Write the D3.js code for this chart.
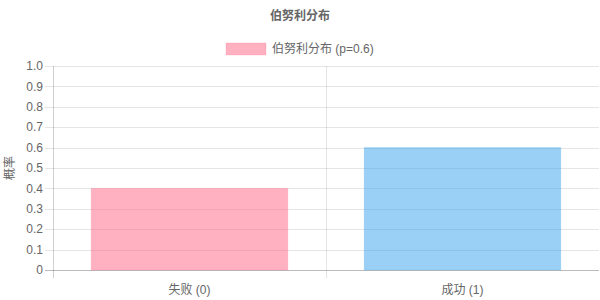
<!DOCTYPE html>
<html>
<head>
<meta charset="utf-8">
<script src="https://cdn.jsdelivr.net/npm/d3@7"></script>
<style>
  body { margin: 0; background: #fff; }
  svg text { font-family: "Helvetica Neue", Arial, "Liberation Sans", "Noto Sans CJK SC", sans-serif; }
</style>
</head>
<body>
<div id="chart"></div>
<script>
// Datos
const categories = ['失败 (0)', '成功 (1)'];
const probabilities = [0.4, 0.6];
const fillColors = ['rgba(255, 99, 132, 0.5)', 'rgba(54, 162, 235, 0.5)'];
const borderColors = ['rgba(255, 99, 132, 0.2)', 'rgba(54, 162, 235, 0.2)'];
const yTicks = [0, 0.1, 0.2, 0.3, 0.4, 0.5, 0.6, 0.7, 0.8, 0.9, 1.0];
const chartTitle = '伯努利分布';
const seriesLabel = '伯努利分布 (p=0.6)';
const yTitle = '概率';

const width = 600;
const height = 300;
const margin = { top: 66, right: 1, bottom: 30, left: 53 };
const chartWidth = width - margin.left - margin.right;
const chartHeight = height - margin.top - margin.bottom;

const svg = d3.select('#chart').append('svg')
    .attr('width', width)
    .attr('height', height);

const g = svg.append('g')
    .attr('transform', `translate(${margin.left},${margin.top})`);

const xScale = d3.scaleBand()
    .domain(categories)
    .range([0, chartWidth]);

const yScale = d3.scaleLinear()
    .domain([0, 1])
    .range([chartHeight, 0]);

const gridColor = 'rgba(0,0,0,0.1)';

// Líneas horizontales
g.selectAll('.hgrid')
    .data(yTicks)
    .enter()
    .append('line')
    .attr('class', 'hgrid')
    .attr('x1', -8)
    .attr('x2', chartWidth)
    .attr('y1', d => Math.round(yScale(d)) + 0.5)
    .attr('y2', d => Math.round(yScale(d)) + 0.5)
    .attr('stroke', gridColor);

// Línea vertical entre categorías
g.append('line')
    .attr('x1', Math.round(xScale.bandwidth()) + 0.5)
    .attr('x2', Math.round(xScale.bandwidth()) + 0.5)
    .attr('y1', 0)
    .attr('y2', chartHeight + 8)
    .attr('stroke', gridColor);

// Barras
const inner = 0.72;
g.selectAll('.bar')
    .data(categories)
    .enter()
    .append('rect')
    .attr('class', 'bar')
    .attr('x', d => xScale(d) + xScale.bandwidth() * (1 - inner) / 2)
    .attr('width', xScale.bandwidth() * inner)
    .attr('y', (d, i) => yScale(probabilities[i]))
    .attr('height', (d, i) => chartHeight - yScale(probabilities[i]))
    .attr('fill', (d, i) => fillColors[i])
    .attr('stroke', (d, i) => borderColors[i])
    .attr('stroke-width', 1);

// Ejes
g.append('line')
    .attr('x1', 0.5).attr('x2', 0.5)
    .attr('y1', 0).attr('y2', chartHeight + 8)
    .attr('stroke', 'rgba(0,0,0,0.18)');
g.append('line')
    .attr('x1', -8).attr('x2', chartWidth)
    .attr('y1', chartHeight + 0.5).attr('y2', chartHeight + 0.5)
    .attr('stroke', 'rgba(0,0,0,0.18)');

// Etiquetas Y
g.selectAll('.ylabel')
    .data(yTicks)
    .enter()
    .append('text')
    .attr('class', 'ylabel')
    .attr('x', -10)
    .attr('y', d => yScale(d))
    .attr('dy', '0.35em')
    .attr('text-anchor', 'end')
    .attr('fill', '#666')
    .attr('font-size', '12px')
    .text(d => d === 0 ? '0' : d.toFixed(1));

// Etiquetas X
g.selectAll('.xlabel')
    .data(categories)
    .enter()
    .append('text')
    .attr('class', 'xlabel')
    .attr('x', d => xScale(d) + xScale.bandwidth() / 2)
    .attr('y', chartHeight + 20)
    .attr('dy', '0.35em')
    .attr('text-anchor', 'middle')
    .attr('fill', '#666')
    .attr('font-size', '12px')
    .text(d => d);

// Título del eje Y
svg.append('text')
    .attr('transform', `translate(10, ${margin.top + chartHeight / 2}) rotate(-90)`)
    .attr('text-anchor', 'middle')
    .attr('dy', '0.35em')
    .attr('fill', '#666')
    .attr('font-size', '12px')
    .text(yTitle);

// Título
svg.append('text')
    .attr('x', width / 2)
    .attr('y', 16)
    .attr('dy', '0.35em')
    .attr('text-anchor', 'middle')
    .attr('fill', '#666')
    .attr('font-size', '12px')
    .attr('font-weight', 'bold')
    .text(chartTitle);

// Leyenda
const legend = svg.append('g').attr('transform', 'translate(226, 43)');
legend.append('rect')
    .attr('width', 40)
    .attr('height', 12)
    .attr('fill', fillColors[0])
    .attr('stroke', borderColors[0]);
legend.append('text')
    .attr('x', 46)
    .attr('y', 6)
    .attr('dy', '0.35em')
    .attr('fill', '#666')
    .attr('font-size', '12px')
    .text(seriesLabel);
</script>
</body>
</html>
